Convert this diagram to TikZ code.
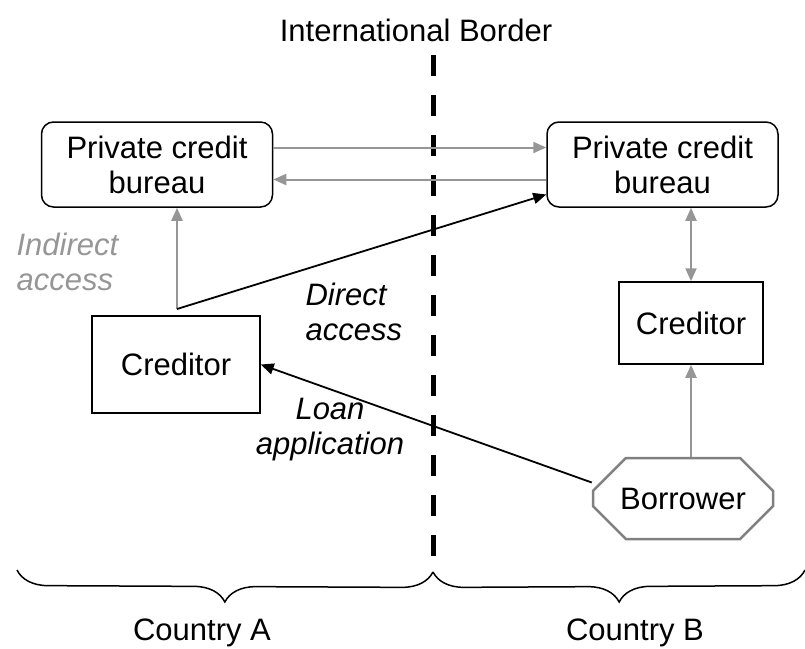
\documentclass[tikz,border=0pt]{standalone}
\usepackage{fontspec}
\setmainfont{Liberation Sans}
\usetikzlibrary{positioning, arrows.meta, shapes.misc, decorations.pathreplacing}
\definecolor{linkgray}{RGB}{150,150,150}
\tikzset{
  >={Triangle[length=13pt,width=11pt]},
  bureau/.style={draw, line width=1.5pt, rounded corners=12pt, minimum width=231pt, minimum height=85pt, align=center, inner sep=0pt},
  lender/.style={draw, line width=1.5pt, inner sep=0pt},
  debtor/.style={draw=gray, line width=2.5pt, chamfered rectangle, chamfered rectangle xsep=25pt, chamfered rectangle ysep=22pt, minimum width=180pt, minimum height=81pt, inner sep=0pt},
  graylink/.style={draw=linkgray, line width=2pt},
  blacklink/.style={draw=black, line width=1.8pt, ->},
  note/.style={font=\fontsize{31}{35}\selectfont\itshape, align=left},
  borderline/.style={line width=5pt, dash pattern=on 21pt off 19pt},
  curly/.style={line width=1.5pt, decorate, decoration={brace, mirror, amplitude=31pt}}
}
\begin{document}
\begin{tikzpicture}[x=1pt, y=-1pt, font=\fontsize{31}{35}\selectfont]
  \useasboundingbox (0,0) rectangle (805,648);
  % bureaus
  \node[bureau] (lbur) at (157,164.5) {Private credit\\bureau};
  \node[bureau, right=273pt of lbur] (rbur) {Private credit\\bureau};
  % creditors and borrower
  \node[lender, minimum width=168pt, minimum height=97pt] (lcred) at (176,364.5) {Creditor};
  \node[lender, minimum width=144pt, minimum height=82pt] (rcred) at (691,323) {Creditor};
  \node[debtor] (bor) at (683,498.5) {Borrower};
  % border
  \node (title) at (416,30) {International Border};
  \coordinate (btop) at (433,55);
  \coordinate (bbot) at (433,572);
  \draw[borderline] (btop) -- (bbot);
  % links
  \coordinate (split) at (177,309);
  \draw[graylink, ->] ([yshift=17pt]lbur.east) -- ([yshift=17pt]rbur.west);
  \draw[graylink, ->] ([yshift=-15pt]rbur.west) -- ([yshift=-15pt]lbur.east);
  \draw[graylink, ->] (split) -- (split |- lbur.south);
  \draw[blacklink] (split) -- ([yshift=-30pt]rbur.west);
  \draw[graylink, <->] (rcred.north) -- (rcred.north |- rbur.south);
  \draw[graylink, ->] (rcred.south |- bor.north) -- (rcred.south);
  \draw[blacklink] ([yshift=16pt]bor.west) -- (lcred.east);
  % labels
  \node[note, text=linkgray, anchor=west] (indirect) at (13,262) {Indirect\\access};
  \node[note, anchor=west] (direct) at (302,312) {Direct\\access};
  \node[note, align=center] (loan) at (330,430) {Loan\\application};
  % countries
  \coordinate (aL) at (17,570);
  \coordinate (bR) at (805,570);
  \draw[curly] (aL) -- (bbot);
  \draw[curly] (bbot) -- (bR);
  \node (ctyA) at (202,633) {Country A};
  \node (ctyB) at (635,633) {Country B};
\end{tikzpicture}
\end{document}
